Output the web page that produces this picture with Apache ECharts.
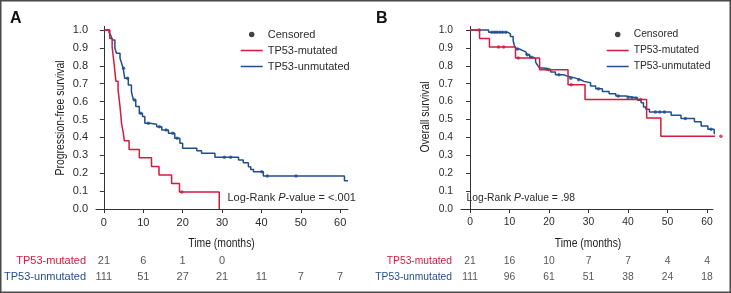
<!DOCTYPE html>
<html>
<head>
<meta charset="utf-8">
<script src="https://cdn.jsdelivr.net/npm/echarts@6/dist/echarts.min.js"></script>
<style>
  html, body { margin: 0; padding: 0; background: #fff; }
  #chart { width: 731px; height: 293px; }
</style>
</head>
<body>
<div id="chart"></div>
<script>
// months on the x axis, survival on the y axis
const xTicks = [0, 10, 20, 30, 40, 50, 60];
const yTicks = [0, 0.1, 0.2, 0.3, 0.4, 0.5, 0.6, 0.7, 0.8, 0.9, 1.0];
const groups = ['TP53-mutated', 'TP53-unmutated'];

// A: progression-free survival
const pfsMutTime = [0, 1.5, 2.1, 2.6, 3.05, 3.6, 4.1, 4.5, 4.9, 5.2, 6.4, 9.0, 12.1, 14.0, 17.2, 19.2, 29.3];
const pfsMutSurv = [1, 0.952, 0.905, 0.810, 0.714, 0.667, 0.571, 0.476, 0.429, 0.381, 0.333, 0.286, 0.238, 0.190, 0.143, 0.095, 0];
const pfsMutCens = [19.8];

const pfsUnTime = [0, 1.3, 1.7, 2.2, 2.8, 3.2, 4.1, 4.5, 4.9, 5.3, 6.2, 7.0, 7.5, 8.1, 9.0, 9.8, 10.4, 11.7, 13.4, 14.7, 16.4, 18.0, 19.3, 20.0, 23.6, 24.8, 28.2, 34.2, 35.4, 36.7, 37.3, 38.0, 40.5, 61.1, 62];
const pfsUnSurv = [1, 0.987, 0.972, 0.944, 0.898, 0.870, 0.842, 0.814, 0.786, 0.730, 0.693, 0.655, 0.609, 0.572, 0.535, 0.517, 0.479, 0.473, 0.460, 0.441, 0.423, 0.395, 0.367, 0.339, 0.326, 0.311, 0.289, 0.274, 0.259, 0.236, 0.221, 0.208, 0.184, 0.158, 0.158];
const pfsUnCens = [5.0, 6.0, 7.8, 9.3, 11.3, 14.1, 15.8, 17.5, 18.6, 30.6, 32.2, 40.1, 41.5, 48.8];

const pfsRiskMut = [21, 6, 1, 0];
const pfsRiskUn = [111, 51, 27, 21, 11, 7, 7];

// B: overall survival
const osMutTime = [0, 2.4, 4.9, 11.5, 17.6, 24.8, 29.1, 44.7, 48.3, 63.5];
const osMutSurv = [1, 0.952, 0.905, 0.844, 0.778, 0.694, 0.611, 0.509, 0.407, 0.407];
const osMutCens = [2.3, 7.2, 8.5, 12.2, 19.9, 25.6, 43.2, 63.5];

const osUnTime = [0, 4.7, 9.6, 10.2, 10.9, 11.2, 11.7, 12.5, 13.4, 14.2, 15.1, 16.0, 16.6, 17.1, 17.6, 18.7, 20.4, 21.6, 23.7, 24.8, 26.7, 28.0, 28.8, 30.5, 31.8, 33.5, 35.2, 36.9, 39.4, 42.4, 43.3, 43.9, 44.5, 45.4, 50.9, 53.4, 56.8, 58.5, 60.2, 61.8, 62.5, 63.0, 63.5];
const osUnSurv = [1, 0.987, 0.978, 0.963, 0.941, 0.913, 0.894, 0.885, 0.876, 0.861, 0.848, 0.839, 0.820, 0.802, 0.787, 0.780, 0.765, 0.750, 0.741, 0.731, 0.722, 0.713, 0.705, 0.687, 0.672, 0.657, 0.644, 0.631, 0.620, 0.607, 0.594, 0.570, 0.557, 0.542, 0.524, 0.506, 0.487, 0.464, 0.446, 0.422, 0.394, 0.370, 0.370];
const osUnCens = [5.5, 6.2, 6.8, 7.5, 8.2, 9.0, 12.0, 14.5, 15.5, 19.5, 22.5, 25.5, 27.5, 32.5, 37.5, 40.0, 41.0, 42.0, 46.9, 48.0, 49.2, 54.5, 61.0];

const osRiskMut = [21, 16, 10, 7, 7, 4, 4];
const osRiskUn = [111, 96, 61, 51, 38, 24, 18];

const RED = '#d41a3e';
const BLUE = '#1f4f8e';
const TXT = '#2b2b2b';
const FONT = '"Liberation Sans", Arial, Helvetica, sans-serif';
const LINE_ICON = 'path://M0,0H22V1.5H0Z';

const pairs = (ts, ss) => ts.map((t, i) => [t, ss[i]]);
const survAt = (ts, ss, t) => {
  let v = ss[0];
  ts.forEach((tt, i) => { if (tt <= t) v = ss[i]; });
  return v;
};
const cens = (ts, ss, cs) => cs.map(c => [c, survAt(ts, ss, c)]);
const riskRow = (counts, name) => counts.map((n, i) => [xTicks[i], name, n]);

const chart = echarts.init(document.getElementById('chart'));

function plotAxes(gridIndex, min, max, fs) {
  const x = {
    type: 'value', gridIndex, min, max,
    axisLine: { lineStyle: { color: '#333', width: 1 } },
    axisTick: { show: true, length: 4, customValues: xTicks, lineStyle: { color: '#333' } },
    axisLabel: { customValues: xTicks, margin: 8, fontSize: fs, fontFamily: FONT, color: TXT },
    splitLine: { show: false }
  };
  const y = {
    type: 'value', gridIndex, min: 0, max: 1.02,
    axisLine: { show: true, lineStyle: { color: '#333', width: 1 } },
    axisTick: { show: true, length: 4, customValues: yTicks, lineStyle: { color: '#333' } },
    axisLabel: { customValues: yTicks, margin: 8, fontSize: fs, fontFamily: FONT, color: TXT,
      formatter: v => v.toFixed(1) },
    splitLine: { show: false }
  };
  return [x, y];
}

function riskAxes(gridIndex, min, max, fs, margin) {
  const x = { type: 'value', gridIndex, min, max, show: false };
  const y = {
    type: 'category', gridIndex, data: groups, inverse: true,
    axisLine: { show: false }, axisTick: { show: false },
    axisLabel: { margin, fontSize: fs, fontFamily: FONT,
      color: (v) => (v === 'TP53-mutated' ? RED : BLUE) }
  };
  return [x, y];
}

const [axA, ayA] = plotAxes(0, -2, 62, 11);
const [axB, ayB] = plotAxes(1, -2.3, 61.5, 10.3);
const [rxA, ryA] = riskAxes(2, -2, 62, 11, 10);
const [rxB, ryB] = riskAxes(3, -2.3, 61.5, 10.3, 9);

function curve(name, xi, data, color) {
  return {
    name, type: 'line', xAxisIndex: xi, yAxisIndex: xi, data, step: 'end',
    symbol: 'none', clip: false, silent: true,
    lineStyle: { color, width: 1.5 }, itemStyle: { color }
  };
}
function marks(xi, data, color) {
  return {
    name: 'marks', type: 'scatter', xAxisIndex: xi, yAxisIndex: xi, data,
    symbol: 'circle', symbolSize: 3.5, clip: false, silent: true,
    itemStyle: { color }
  };
}
function riskSeries(xi, data, fs) {
  return {
    type: 'scatter', xAxisIndex: xi, yAxisIndex: xi, data, symbolSize: 0, silent: true,
    encode: { x: 0, y: 1 },
    label: { show: true, position: 'inside', formatter: p => p.value[2],
      fontSize: fs, fontFamily: FONT, color: TXT }
  };
}

function legend(left, top, fs) {
  return {
    left, top, orient: 'vertical', itemWidth: 22, itemHeight: 5.5, itemGap: 3,
    selectedMode: false, padding: 0,
    textStyle: { fontSize: fs, fontFamily: FONT, color: TXT, lineHeight: 13 },
    data: [
      { name: 'Censored', icon: 'circle' },
      { name: 'TP53-mutated', icon: LINE_ICON },
      { name: 'TP53-unmutated', icon: LINE_ICON }
    ]
  };
}

// condensed axis titles
function title(text, x, y, rotate) {
  return {
    type: 'text', x, y, rotation: rotate ? Math.PI / 2 : 0, scaleX: 0.77, silent: true,
    style: { text, font: '13.5px ' + FONT, fill: '#1e1e1e', textAlign: 'center', textVerticalAlign: 'middle' }
  };
}

const option = {
  animation: false,
  backgroundColor: '#fff',
  grid: [
    { left: 96, right: 383, top: 26.4, bottom: 84 },
    { left: 461, right: 18, top: 26.4, bottom: 84 },
    { left: 96, right: 383, top: 253, height: 32 },
    { left: 461, right: 18, top: 253, height: 32 }
  ],
  xAxis: [axA, axB, rxA, rxB],
  yAxis: [ayA, ayB, ryA, ryB],
  legend: [legend(240.7, 28, 11), legend(606.7, 28, 10.3)],
  series: [
    { name: 'Censored', type: 'scatter', data: [], itemStyle: { color: '#111' } },
    curve('TP53-unmutated', 0, pairs(pfsUnTime, pfsUnSurv), BLUE),
    curve('TP53-mutated', 0, pairs(pfsMutTime, pfsMutSurv), RED),
    marks(0, cens(pfsUnTime, pfsUnSurv, pfsUnCens), BLUE),
    marks(0, cens(pfsMutTime, pfsMutSurv, pfsMutCens), RED),
    curve('TP53-unmutated', 1, pairs(osUnTime, osUnSurv), BLUE),
    curve('TP53-mutated', 1, pairs(osMutTime, osMutSurv), RED),
    marks(1, cens(osUnTime, osUnSurv, osUnCens), BLUE),
    marks(1, cens(osMutTime, osMutSurv, osMutCens), RED),
    riskSeries(2, riskRow(pfsRiskMut, groups[0]).concat(riskRow(pfsRiskUn, groups[1])), 11),
    riskSeries(3, riskRow(osRiskMut, groups[0]).concat(riskRow(osRiskUn, groups[1])), 10.3)
  ],
  graphic: [
    { type: 'rect', shape: { x: 0.75, y: 0.75, width: 729.5, height: 291.5 },
      style: { fill: 'none', stroke: '#4a4a4a', lineWidth: 1.5 }, silent: true },
    { type: 'text', left: 10, top: 11, style: { text: 'A', font: 'bold 16px ' + FONT, fill: '#111' } },
    { type: 'text', left: 376, top: 11, style: { text: 'B', font: 'bold 16px ' + FONT, fill: '#111' } },
    title('Time (months)', 221.5, 243, false),
    title('Time (months)', 588, 243, false),
    title('Progression-free survival', 60, 118, true),
    title('Overall survival', 425.5, 117, true),
    { type: 'text', left: 227.5, top: 192.5, style: {
      text: 'Log-Rank {i|P}-value = <.001', font: '11px ' + FONT, fill: TXT,
      rich: { i: { fontStyle: 'italic', fontSize: 11, fontFamily: FONT, fill: TXT } } } },
    { type: 'text', left: 466.5, top: 193, style: {
      text: 'Log-Rank {i|P}-value = .98', font: '10.3px ' + FONT, fill: TXT,
      rich: { i: { fontStyle: 'italic', fontSize: 10.3, fontFamily: FONT, fill: TXT } } } }
  ]
};

chart.setOption(option);
</script>
</body>
</html>
